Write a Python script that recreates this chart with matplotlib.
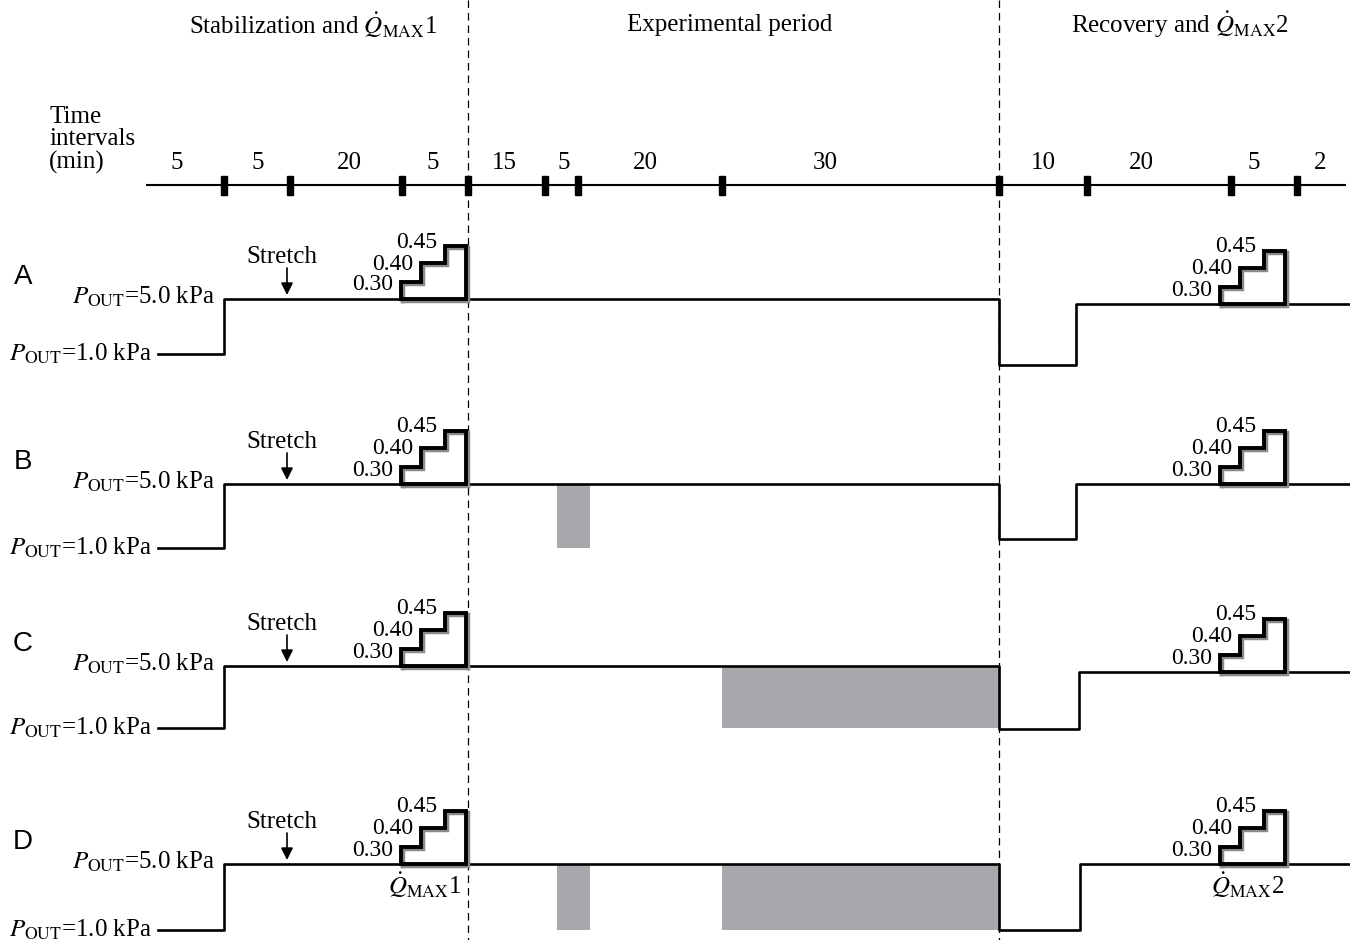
import matplotlib
matplotlib.use("Agg")
import matplotlib.pyplot as plt
from matplotlib.patches import Rectangle

plt.rcParams["font.family"] = ["Liberation Serif", "DejaVu Serif"]
plt.rcParams["mathtext.fontset"] = "stix"

# schematic time axis (drawing units along x)
phase_titles = [r"Stabilization and $\dot{Q}_{\mathrm{MAX}}$1", "Experimental period",
                r"Recovery and $\dot{Q}_{\mathrm{MAX}}$2"]
phase_title_x = [313, 730, 1180]
phase_bounds = [468, 999]

interval_ticks = [224, 290, 402, 468, 545, 578, 722, 999, 1087, 1231, 1297]
interval_minutes = ["5", "5", "20", "5", "15", "5", "20", "30", "10", "20", "5", "2"]
interval_label_x = [177, 258, 349, 433, 504, 564, 645, 825, 1043, 1141, 1254, 1320]

# perfusion protocol, one row per panel
panels = ["A", "B", "C", "D"]
high_y = [299, 484, 666, 864]
left_low_y = [354, 548, 728, 930]
right_low_y = [365, 539, 729, 930]
right_high_y = [304, 484, 672, 864]
recovery_x = [1076, 1076, 1079, 1080]
pressure_step_x = 224
stretch_x = 287
drop_x = 999

# grey blocks: (start, end) on the schematic axis
blocks = {
    "A": [],
    "B": [(557, 590)],
    "C": [(722, 999)],
    "D": [(557, 590), (722, 999)],
}

flow_steps = ["0.30", "0.40", "0.45"]
stair_x = [401, 1220]

fig = plt.figure(figsize=(13.5, 9.4), dpi=100)
ax = fig.add_axes([0, 0, 1, 1])
ax.set_xlim(0, 1350)
ax.set_ylim(940, 0)
ax.axis("off")

lw = 1.9
fs = 18

# phase titles and dashed separators
for t, x in zip(phase_titles, phase_title_x):
    ax.text(x, 25, t, ha="center", va="center", fontsize=fs)
for x in phase_bounds:
    ax.plot([x, x], [0, 940], color="black", lw=0.9, ls=(0, (6, 4)), zorder=1)

# timeline
ax.text(49, 140, "Time\nintervals\n(min)", ha="left", va="center", fontsize=fs,
        linespacing=1.05)
ax.plot([147, 1345], [185, 185], color="black", lw=1.5)
for x in interval_ticks:
    ax.add_patch(Rectangle((x - 3, 176), 6, 19, color="black", zorder=3))
for lab, x in zip(interval_minutes, interval_label_x):
    ax.text(x, 163, lab, ha="center", va="center", fontsize=fs)


def staircase(x0, base):
    xs = [x0, x0, x0 + 20, x0 + 20, x0 + 44, x0 + 44, x0 + 65, x0 + 65, x0]
    ys = [base, base - 17, base - 17, base - 36, base - 36, base - 53, base - 53, base, base]
    ax.plot([x + 1.5 for x in xs], [y + 1.5 for y in ys], color="#8a8a8a", lw=3.2,
            solid_joinstyle="miter", zorder=4)
    ax.plot(xs, ys, color="black", lw=2.8, solid_joinstyle="miter", zorder=5)
    tops = [base - 17, base - 36, base - 53]
    lefts = [x0, x0 + 20, x0 + 44]
    nudges = [3, 1, -4]
    for lab, lx, ty, dy in zip(flow_steps, lefts, tops, nudges):
        ax.text(lx - 8, ty + dy, lab, ha="right", va="center", fontsize=17, zorder=6)


for i, p in enumerate(panels):
    hy, ly = high_y[i], left_low_y[i]
    ax.text(23, hy - 22, p, ha="center", va="center", fontsize=20,
            family="Liberation Sans")
    ax.text(215, hy - 2, r"$P_{\mathrm{OUT}}$=5.0 kPa", ha="right", va="center", fontsize=fs)
    ax.text(152, ly, r"$P_{\mathrm{OUT}}$=1.0 kPa", ha="right", va="center", fontsize=fs)

    for a, b in blocks[p]:
        ax.add_patch(Rectangle((a, hy), b - a, ly - hy, color="#a7a8ab", lw=0, zorder=1))

    # pressure trace
    ax.plot([158, pressure_step_x, pressure_step_x, stretch_x + 1], [ly, ly, hy, hy],
            color="black", lw=lw, zorder=2)
    ax.plot([stretch_x + 3, drop_x, drop_x, recovery_x[i], recovery_x[i], 1350],
            [hy, hy, right_low_y[i], right_low_y[i], right_high_y[i], right_high_y[i]],
            color="black", lw=lw, zorder=2)

    # stretch marker
    ax.text(282, hy - 42, "Stretch", ha="center", va="center", fontsize=fs)
    ax.annotate("", xy=(stretch_x, hy - 4), xytext=(stretch_x, hy - 31),
                arrowprops=dict(arrowstyle="-|>", color="black", lw=1.2,
                                mutation_scale=18, shrinkA=0, shrinkB=0))

    staircase(stair_x[0], hy)
    staircase(stair_x[1], right_high_y[i])

ax.text(425, 885, r"$\dot{Q}_{\mathrm{MAX}}$1", ha="center", va="center", fontsize=fs)
ax.text(1248, 885, r"$\dot{Q}_{\mathrm{MAX}}$2", ha="center", va="center", fontsize=fs)

fig.savefig("out.png", dpi=100, facecolor="white")
